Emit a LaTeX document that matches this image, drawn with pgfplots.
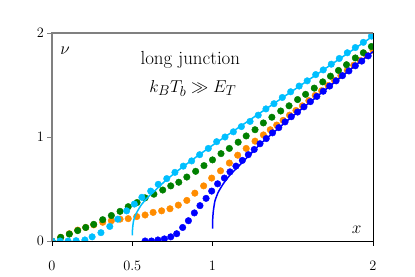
\documentclass[border=0pt]{standalone}
\usepackage{pgfplots}
\pgfplotsset{compat=1.18}
\definecolor{cblue}{RGB}{0,0,255}
\definecolor{corange}{RGB}{255,140,0}
\definecolor{cgreen}{RGB}{0,128,0}
\definecolor{csky}{RGB}{0,191,255}
\definecolor{cgray}{RGB}{128,128,128}
\begin{document}
\begin{tikzpicture}
\begin{axis}[
  name=ax,
  scale only axis, width=321bp, height=208bp,
  xmin=0, xmax=2, ymin=0, ymax=2,
  axis lines=left, axis line style={draw=none},
  tick align=outside, major tick length=4.5bp,
  xtick={0,0.5,1,2}, ytick={0,1,2},
  xtick style={black, line width=0.8bp},
  ytick style={cgray, line width=0.8bp},
  ticklabel style={font=\fontsize{13.3}{15}\selectfont},
  xticklabel style={yshift=-12bp},
  clip=true, clip marker paths=true,
]
% orange dots
\addplot[only marks, mark=*, color=corange, mark size=3.3pt] coordinates {
(0,0)(0.054,0.035)(0.108,0.07)(0.16,0.105)(0.21,0.13)(0.26,0.155)(0.316,0.18)(0.37,0.195)(0.424,0.21)(0.475,0.215)(0.528,0.235)(0.58,0.25)(0.63,0.275)(0.683,0.29)(0.735,0.31)(0.787,0.345)(0.84,0.39)(0.89,0.46)(0.945,0.53)(0.995,0.605)(1.05,0.675)(1.105,0.75)(1.157,0.825)(1.21,0.89)(1.265,0.96)(1.317,1.02)(1.36,1.07)(1.40,1.115)(1.44,1.16)(1.48,1.21)(1.52,1.255)(1.56,1.30)(1.60,1.35)(1.64,1.40)(1.68,1.445)(1.72,1.495)(1.76,1.545)(1.80,1.59)(1.84,1.64)(1.88,1.69)(1.92,1.735)(1.96,1.785)(2.0,1.835)
};
% green dots
\addplot[only marks, mark=*, color=cgreen, mark size=3.3pt] coordinates {
(0,0)(0.054,0.035)(0.108,0.067)(0.16,0.10)(0.21,0.13)(0.26,0.16)(0.316,0.205)(0.37,0.245)(0.424,0.285)(0.475,0.33)(0.53,0.37)(0.58,0.415)(0.635,0.45)(0.69,0.49)(0.74,0.53)(0.79,0.565)(0.84,0.615)(0.895,0.67)(0.947,0.725)(1.0,0.78)(1.053,0.84)(1.105,0.89)(1.16,0.95)(1.21,1.01)(1.265,1.07)(1.317,1.135)(1.37,1.19)(1.425,1.25)(1.477,1.30)(1.53,1.36)(1.58,1.41)(1.634,1.47)(1.687,1.53)(1.735,1.585)(1.785,1.64)(1.835,1.695)(1.89,1.76)(1.94,1.81)(1.99,1.87)
};
% light blue dots
\addplot[only marks, mark=*, color=csky, mark size=3.3pt] coordinates {
(0,0)(0.05,0)(0.1,0)(0.15,0.003)(0.205,0.01)(0.25,0.04)(0.305,0.08)(0.36,0.14)(0.41,0.21)(0.465,0.29)(0.513,0.355)(0.56,0.42)(0.615,0.48)(0.662,0.545)(0.715,0.60)(0.766,0.66)(0.818,0.72)(0.87,0.77)(0.92,0.83)(0.974,0.89)(1.026,0.955)(1.078,1.0)(1.13,1.05)(1.18,1.10)(1.234,1.15)(1.285,1.21)(1.333,1.27)(1.383,1.32)(1.435,1.38)(1.487,1.435)(1.54,1.49)(1.59,1.54)(1.643,1.60)(1.69,1.645)(1.74,1.70)(1.79,1.755)(1.84,1.81)(1.89,1.86)(1.94,1.91)(1.99,1.97)
};
% blue dots
\addplot[only marks, mark=*, color=cblue, mark size=3.3pt] coordinates {
(0.58,0)(0.62,0)(0.66,0.01)(0.70,0.02)(0.74,0.04)(0.777,0.07)(0.814,0.13)(0.85,0.195)(0.887,0.27)(0.922,0.34)(0.96,0.41)(0.995,0.48)(1.032,0.55)(1.074,0.605)(1.109,0.665)(1.146,0.72)(1.186,0.775)(1.223,0.83)(1.26,0.88)(1.296,0.935)(1.335,0.985)(1.374,1.04)(1.413,1.09)(1.452,1.145)(1.491,1.195)(1.53,1.24)(1.57,1.29)(1.61,1.34)(1.65,1.39)(1.69,1.44)(1.73,1.49)(1.77,1.54)(1.81,1.59)(1.85,1.635)(1.89,1.685)(1.93,1.73)(1.97,1.78)
};
% light blue line
\addplot[color=csky, line width=1.5bp, smooth, tension=0.3] coordinates {
(0.5,0.055)(0.502,0.12)(0.507,0.185)(0.515,0.23)(0.528,0.275)(0.545,0.32)(0.56,0.355)(0.585,0.40)(0.61,0.44)(0.635,0.475)(0.662,0.515)(0.7,0.57)(0.75,0.635)(0.8,0.695)(0.9,0.81)(1.0,0.92)(1.1,1.025)(1.2,1.13)(1.3,1.235)(1.4,1.34)(1.5,1.445)(1.6,1.55)(1.7,1.655)(1.8,1.76)(1.9,1.865)(2.0,1.97)
};
% blue line
\addplot[color=cblue, line width=1.5bp, smooth, tension=0.3] coordinates {
(1.0,0.12)(1.001,0.2)(1.004,0.27)(1.008,0.32)(1.016,0.39)(1.036,0.47)(1.067,0.55)(1.109,0.635)(1.16,0.715)(1.22,0.81)(1.3,0.935)(1.4,1.07)(1.5,1.2)(1.6,1.325)(1.7,1.45)(1.8,1.575)(1.9,1.70)(2.0,1.82)
};
\node[font=\fontsize{19}{22}\selectfont] at (axis cs:0.081,1.827) {$\nu$};
\node[font=\fontsize{19}{22}\selectfont] at (axis cs:1.898,0.106) {$x$};
\node[font=\fontsize{19}{22}\selectfont] at (axis cs:0.862,1.74) {long junction};
\node[font=\fontsize{19}{22}\selectfont] at (axis cs:0.878,1.47) {$k_BT_b\gg E_T$};
\end{axis}
\draw[cgray, line width=1.2bp] (ax.south west) -- (ax.north west) -- (ax.north east);
\draw[black, line width=1bp] (ax.north east) -- (ax.south east) -- (ax.south west);
\pgfresetboundingbox
\path[use as bounding box] ([shift={(-52bp,-36bp)}]ax.south west) rectangle ([shift={(42bp,33bp)}]ax.north east);
\end{tikzpicture}
\end{document}
